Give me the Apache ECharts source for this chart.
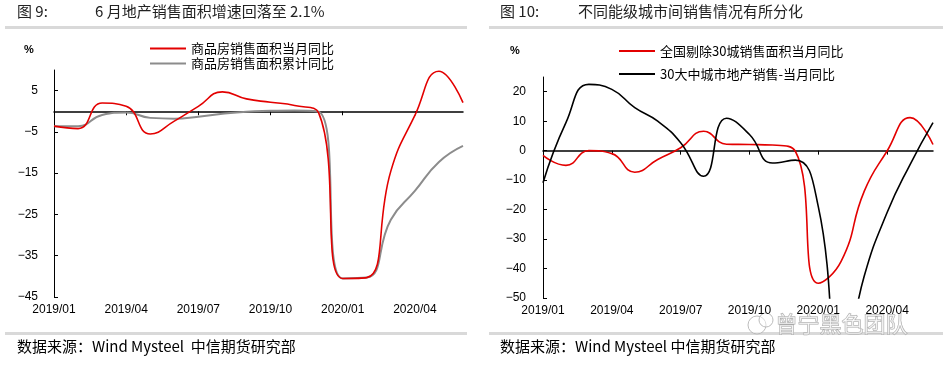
<!DOCTYPE html>
<html>
<head>
<meta charset="utf-8">
<style>
  html, body { margin: 0; padding: 0; background: #fff; }
  #echarts { width: 943px; height: 365px; }
</style>
<script src="https://cdn.jsdelivr.net/npm/echarts@6/dist/echarts.min.js"></script>
</head>
<body>
<div id="echarts"></div>
<script>
const months = ['2019/01', '2019/02', '2019/03', '2019/04', '2019/05', '2019/06', '2019/07', '2019/08', '2019/09',
  '2019/10', '2019/11', '2019/12', '2020/01', '2020/02', '2020/03', '2020/04', '2020/05', '2020/06'];
// 图9
const salesMonthly = [-3.6, -4.2, 2.0, 1.2, -5.5, -2.4, 1.2, 4.7, 3.0, 2.2, 1.4, -0.4, -40.5, -40.3, -14.5, -1.0, 9.7, 2.1];
const salesCum = [-3.6, -3.6, -0.9, -0.3, -1.6, -1.8, -1.3, -0.6, -0.1, 0.1, 0.2, -0.1, -40.5, -40.3, -26.3, -19.3, -12.3, -8.4];
const leftTicks = [-45, -35, -25, -15, -5, 5];
// 图10
const excl30 = [-1.6, -5.0, 0.0, -1.0, -7.3, -3.0, 1.0, 6.6, 2.2, 2.1, 1.9, -0.2, -45, -37.5, -13.8, -0.1, 11.2, 2.1];
const top30 = [-10.9, 9.5, 22.5, 20.8, 14.6, 10.0, 2.7, -8.7, 11.0, 5.5, -4.2, -3.2, -19, -75, -42.6, -21, -4.7, 9.5];
const rightTicks = [-50, -40, -30, -20, -10, 0, 10, 20];

const CJK = '"Noto Sans CJK SC", sans-serif';
const NUM = '"Liberation Sans", Arial, sans-serif';
const minus = v => (v < 0 ? '\u2212' + Math.abs(v) : String(v));

let myChart = echarts.init(document.getElementById('echarts'));

// bottom axis carries the labels, the second one sits on zero with small ticks
function xAxes(gridIndex) {
  return [
    {
      gridIndex,
      type: 'category',
      data: months,
      boundaryGap: false,
      axisLine: { show: false, onZero: false },
      axisTick: { show: false },
      axisLabel: { interval: 2, margin: 7, color: '#000', fontFamily: NUM, fontSize: 12 },
    },
    {
      gridIndex,
      type: 'category',
      data: months,
      boundaryGap: false,
      axisLine: { onZero: true, lineStyle: { color: '#000', width: 1.5 } },
      axisTick: { show: true, inside: true, length: 4, interval: 2, lineStyle: { color: '#000' } },
      axisLabel: { show: false },
    },
  ];
}

function yAxis(gridIndex, min, max, ticks, margin) {
  return {
    gridIndex,
    type: 'value',
    min,
    max,
    splitLine: { show: false },
    axisLine: { show: true, lineStyle: { color: '#000', width: 1 } },
    axisTick: { show: true, inside: true, length: 4, customValues: ticks, lineStyle: { color: '#000' } },
    axisLabel: { customValues: ticks, margin, color: '#000', fontFamily: NUM, fontSize: 12, formatter: minus },
  };
}

let option = {
  animation: false,
  grid: [
    { left: 54, right: 480, top: 70, bottom: 68 },
    { left: 543, right: 10, top: 77, bottom: 67 },
  ],
  legend: [
    {
      left: 145,
      top: 36,
      orient: 'vertical',
      icon: 'rect',
      itemWidth: 36,
      itemHeight: 2,
      itemGap: 0,
      textStyle: { fontFamily: CJK, fontSize: 13, color: '#000', lineHeight: 15 },
      data: ['商品房销售面积当月同比', '商品房销售面积累计同比'],
    },
    {
      left: 614,
      top: 38,
      orient: 'vertical',
      icon: 'rect',
      itemWidth: 36,
      itemHeight: 2,
      itemGap: 7,
      textStyle: { fontFamily: CJK, fontSize: 13, color: '#000', lineHeight: 16 },
      data: ['全国剔除30城销售面积当月同比', '30大中城市地产销售-当月同比'],
    },
  ],
  xAxis: [...xAxes(0), ...xAxes(1)],
  yAxis: [yAxis(0, -45, 10, leftTicks, 16), yAxis(1, -50, 25, rightTicks, 17)],
  series: [
    {
      name: '商品房销售面积当月同比',
      type: 'line',
      xAxisIndex: 0,
      yAxisIndex: 0,
      smooth: true,
      showSymbol: false,
      lineStyle: { color: '#e30000', width: 1.6 },
      itemStyle: { color: '#e30000' },
      data: salesMonthly,
      z: 3,
    },
    {
      name: '商品房销售面积累计同比',
      type: 'line',
      xAxisIndex: 0,
      yAxisIndex: 0,
      smooth: true,
      showSymbol: false,
      lineStyle: { color: '#8c8c8c', width: 2 },
      itemStyle: { color: '#8c8c8c' },
      data: salesCum,
      z: 2,
    },
    {
      name: '全国剔除30城销售面积当月同比',
      type: 'line',
      xAxisIndex: 2,
      yAxisIndex: 1,
      smooth: true,
      showSymbol: false,
      lineStyle: { color: '#e30000', width: 1.6 },
      itemStyle: { color: '#e30000' },
      data: excl30,
    },
    {
      name: '30大中城市地产销售-当月同比',
      type: 'line',
      xAxisIndex: 2,
      yAxisIndex: 1,
      smooth: true,
      showSymbol: false,
      lineStyle: { color: '#000', width: 1.6 },
      itemStyle: { color: '#000' },
      data: top30,
    },
  ],
  graphic: [
    // titles
    { type: 'text', left: 17, top: 4, style: { text: '图 9:', font: '15px ' + CJK, fill: '#222' } },
    { type: 'text', left: 95, top: 4, style: { text: '6 月地产销售面积增速回落至 2.1%', font: '15px ' + CJK, fill: '#222' } },
    { type: 'text', left: 500, top: 4, style: { text: '图 10:', font: '15px ' + CJK, fill: '#222' } },
    { type: 'text', left: 578, top: 4, style: { text: '不同能级城市间销售情况有所分化', font: '15px ' + CJK, fill: '#222' } },
    // separators
    { type: 'rect', shape: { x: 5, y: 26, width: 462, height: 3 }, style: { fill: '#d9d9d9' } },
    { type: 'rect', shape: { x: 489, y: 26, width: 454, height: 3 }, style: { fill: '#d9d9d9' } },
    { type: 'rect', shape: { x: 5, y: 332, width: 462, height: 3 }, style: { fill: '#d9d9d9' } },
    { type: 'rect', shape: { x: 489, y: 332, width: 454, height: 3 }, style: { fill: '#d9d9d9' } },
    // unit
    { type: 'text', left: 24, top: 44, style: { text: '%', font: 'bold 11px ' + NUM, fill: '#000' } },
    { type: 'text', left: 510, top: 45, style: { text: '%', font: 'bold 11px ' + NUM, fill: '#000' } },
    // sources
    { type: 'text', left: 17, top: 339, style: { text: '数据来源：Wind Mysteel  中信期货研究部', font: '15px ' + CJK, fill: '#000' } },
    { type: 'text', left: 500, top: 339, style: { text: '数据来源：Wind Mysteel 中信期货研究部', font: '15px ' + CJK, fill: '#000' } },
    // watermark
    { type: 'circle', shape: { cx: 757, cy: 325, r: 9 }, style: { fill: 'rgba(255,255,255,0.5)', stroke: '#bbb', lineWidth: 1 } },
    { type: 'circle', shape: { cx: 766, cy: 320, r: 7 }, style: { fill: 'rgba(255,255,255,0.5)', stroke: '#bbb', lineWidth: 1 } },
    { type: 'text', left: 775, top: 312, style: { text: '曾宁黑色团队', font: '22px ' + CJK, fill: 'rgba(255,255,255,0.6)', stroke: '#aaa', lineWidth: 1 } },
  ],
};
myChart.setOption(option);
</script>
</body>
</html>
